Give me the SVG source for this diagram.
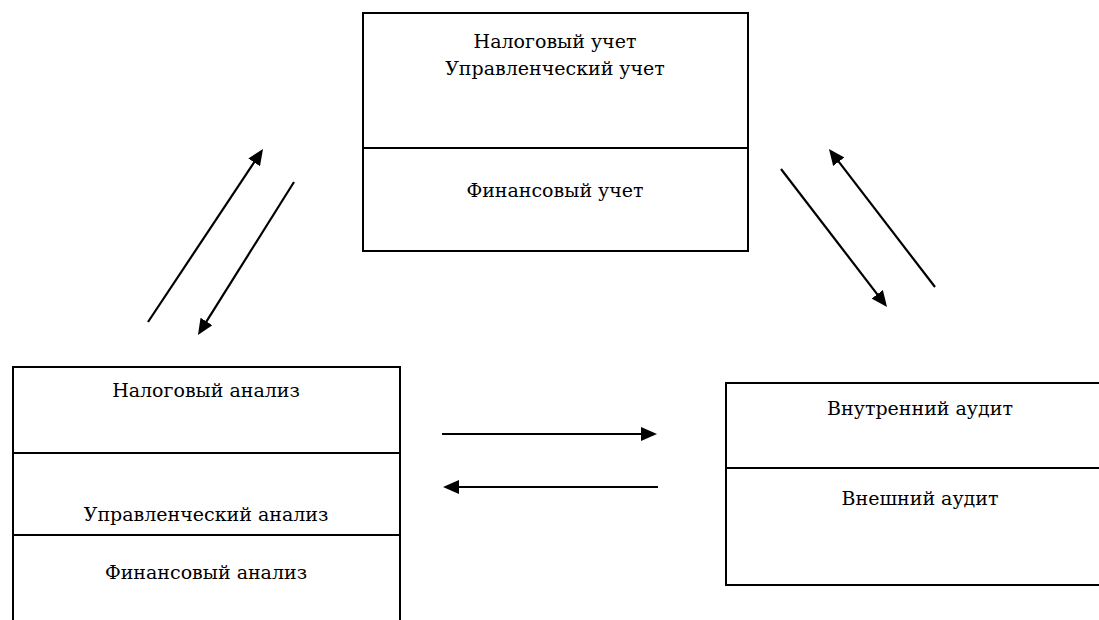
<svg xmlns="http://www.w3.org/2000/svg" width="1099" height="620" viewBox="0 0 1099 620">
  <style>
    .box { fill: #ffffff; stroke: #000000; stroke-width: 2; }
    .div { stroke: #000000; stroke-width: 2; }
    .lbl { font-family: 'DejaVu Serif', serif; font-size: 19px; fill: #000000; text-anchor: middle; }
    .arr { stroke: #000000; stroke-width: 2.2; fill: none; marker-end: url(#head); }
  </style>
  <defs>
    <marker id="head" markerUnits="userSpaceOnUse" markerWidth="16" markerHeight="14" refX="12" refY="7" orient="auto">
      <path d="M0,0 L16,7 L0,14 z" fill="#000000"/>
    </marker>
  </defs>
  <rect width="1099" height="620" fill="#ffffff"/>

  <!-- accounting block -->
  <g id="uchet">
    <rect class="box" x="363" y="13" width="385" height="238"/>
    <line class="div" x1="363" y1="148" x2="748" y2="148"/>
    <text class="lbl" x="555" y="48">Налоговый учет</text>
    <text class="lbl" x="555" y="75">Управленческий учет</text>
    <text class="lbl" x="555" y="197">Финансовый учет</text>
  </g>

  <!-- analysis block -->
  <g id="analiz">
    <rect class="box" x="13" y="367" width="387" height="270"/>
    <line class="div" x1="13" y1="453" x2="400" y2="453"/>
    <line class="div" x1="13" y1="535" x2="400" y2="535"/>
    <text class="lbl" x="206" y="397">Налоговый анализ</text>
    <text class="lbl" x="206" y="521">Управленческий анализ</text>
    <text class="lbl" x="206" y="579">Финансовый анализ</text>
  </g>

  <!-- audit block -->
  <g id="audit">
    <rect class="box" x="726" y="383" width="400" height="202"/>
    <line class="div" x1="726" y1="468" x2="1126" y2="468"/>
    <text class="lbl" x="920" y="415">Внутренний аудит</text>
    <text class="lbl" x="920" y="505">Внешний аудит</text>
  </g>

  <!-- connectors -->
  <g id="connectors">
    <line class="arr" x1="148" y1="322" x2="260.8" y2="152.3"/>
    <line class="arr" x1="294" y1="182" x2="200.1" y2="331.6"/>
    <line class="arr" x1="781" y1="169" x2="884.6" y2="303.8"/>
    <line class="arr" x1="935" y1="287" x2="831.4" y2="152.2"/>
    <line class="arr" x1="442" y1="434" x2="653" y2="434"/>
    <line class="arr" x1="658" y1="487" x2="447" y2="487"/>
  </g>
</svg>
